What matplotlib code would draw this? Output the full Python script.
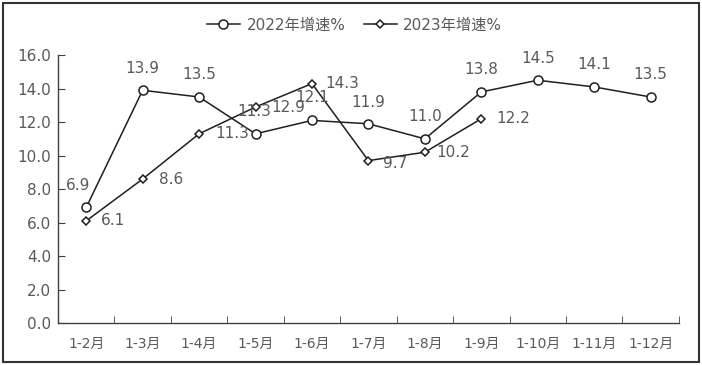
import matplotlib.pyplot as plt
import numpy as np
from matplotlib.patches import Rectangle

plt.rcParams['font.family'] = ['DejaVu Sans', 'Noto Sans CJK SC']

months = ['1-2月', '1-3月', '1-4月', '1-5月', '1-6月', '1-7月',
          '1-8月', '1-9月', '1-10月', '1-11月', '1-12月']
growth_2022 = [6.9, 13.9, 13.5, 11.3, 12.1, 11.9, 11.0, 13.8, 14.5, 14.1, 13.5]
growth_2023 = [6.1, 8.6, 11.3, 12.9, 14.3, 9.7, 10.2, 12.2]

# label offsets in pixels, picked to match where the original chart put them
offsets_2022 = [(-8, 22), (0, 22), (0, 22), (-23, 0), (0, 23), (0, 21),
                (0, 22), (0, 22), (0, 22), (0, 22), (0, 22)]
offsets_2023 = [(27, 0), (28, 0), (55, 22), (33, 0), (30, 0), (27, -3),
                (28, 0), (32, 0)]

fig = plt.figure(figsize=(7.02, 3.65), dpi=100)
ax = fig.add_axes([0.0826, 0.115, 0.8844, 0.734])

x22 = np.arange(len(growth_2022))
x23 = np.arange(len(growth_2023))
line_col = '#1f1f1f'
ax.plot(x22, growth_2022, '-', color=line_col, lw=1.1, marker='o', ms=6.5,
        mfc='white', mec=line_col, mew=1.1, label='2022年增速%', zorder=3)
ax.plot(x23, growth_2023, '-', color=line_col, lw=1.1, marker='D', ms=4.5,
        mfc='white', mec=line_col, mew=1.1, label='2023年增速%', zorder=3)

txt_col = '#595959'
for xi, v, (dx, dy) in zip(x22, growth_2022, offsets_2022):
    ax.annotate(f'{v:.1f}', (xi, v), xytext=(dx, dy), textcoords='offset pixels',
                ha='center', va='center', fontsize=11, color=txt_col)
for xi, v, (dx, dy) in zip(x23, growth_2023, offsets_2023):
    ax.annotate(f'{v:.1f}', (xi, v), xytext=(dx, dy), textcoords='offset pixels',
                ha='center', va='center', fontsize=11, color=txt_col)

ax.set_xlim(-0.5, len(months) - 0.5)
ax.set_ylim(0, 16)
ax.set_yticks(np.arange(0, 16.1, 2))
ax.set_yticklabels([f'{t:.1f}' for t in np.arange(0, 16.1, 2)])
ax.set_xticks(x22)
ax.set_xticklabels(months)
ax.set_xticks(np.arange(-0.5, len(months)), minor=True)

ax.tick_params(axis='y', direction='in', length=5, colors='#404040',
               labelcolor=txt_col, labelsize=11, pad=5)
ax.tick_params(axis='x', which='major', length=0, labelcolor=txt_col,
               labelsize=10, pad=10)
ax.tick_params(axis='x', which='minor', direction='in', length=5, colors='#404040')

for side in ['top', 'right']:
    ax.spines[side].set_visible(False)
for side in ['left', 'bottom']:
    ax.spines[side].set_color('#404040')
    ax.spines[side].set_linewidth(1.0)

leg = fig.legend(loc='center', bbox_to_anchor=(0.505, 0.932), ncol=2,
                 frameon=False, fontsize=11, handlelength=2.2,
                 columnspacing=1.2, handletextpad=0.4)
for t in leg.get_texts():
    t.set_color(txt_col)

# outer frame around the whole picture
fig.patches.append(Rectangle((0.004, 0.007), 0.992, 0.986, transform=fig.transFigure,
                             fill=False, edgecolor='#333333', linewidth=1.5))

fig.savefig('out.png', dpi=100)
